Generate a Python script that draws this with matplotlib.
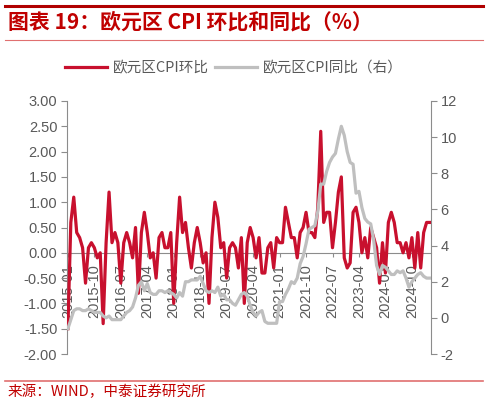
import numpy as np
import matplotlib
matplotlib.use('Agg')
import matplotlib.pyplot as plt
from matplotlib.lines import Line2D

plt.rcParams['axes.unicode_minus'] = False
plt.rcParams['font.family'] = ['Liberation Sans', 'Noto Sans CJK SC', 'DejaVu Sans']

# 欧元区 HICP 环比 (%)，2015-01 ~ 2025-04
mom = [
    -1.5, 0.6, 1.1, 0.4, 0.3, 0.1, -0.6, 0.1, 0.2, 0.1, -0.1, 0.0,   # 2015
    -1.4, 0.2, 1.2, 0.2, 0.4, 0.2, -0.6, 0.2, 0.4, 0.2, -0.1, 0.5,   # 2016
    -0.8, 0.4, 0.8, 0.4, -0.1, 0.0, -0.5, 0.3, 0.4, 0.1, 0.1, 0.4,   # 2017
    -1.0, 0.2, 1.1, 0.4, 0.6, 0.1, -0.3, 0.2, 0.5, 0.2, -0.2, 0.0,   # 2018
    -1.0, 0.3, 1.0, 0.7, 0.1, 0.2, -0.5, 0.1, 0.2, 0.1, -0.3, 0.3,   # 2019
    -1.0, 0.2, 0.5, 0.3, -0.1, 0.3, -0.4, -0.4, 0.1, 0.2, -0.3, 0.3,  # 2020
    0.2, 0.2, 0.9, 0.6, 0.3, 0.3, -0.1, 0.4, 0.5, 0.8, 0.4, 0.4,     # 2021
    0.3, 0.9, 2.4, 0.6, 0.8, 0.8, 0.1, 0.6, 1.2, 1.5, -0.1, -0.3,    # 2022
    -0.2, 0.8, 0.9, 0.6, 0.0, 0.3, -0.1, 0.5, 0.3, 0.1, -0.6, 0.2,   # 2023
    -0.4, 0.6, 0.8, 0.6, 0.2, 0.2, 0.0, 0.2, -0.1, 0.3, -0.3, 0.4,   # 2024
    -0.3, 0.4, 0.6, 0.6,                                             # 2025
]

# 欧元区 HICP 同比 (%)，右轴
yoy = [
    -0.6, -0.1, 0.4, 0.5, 0.5, 0.4, 0.4, 0.5, 0.4, 0.3, 0.3, 0.3,    # 2015
    0.1, 0.0, 0.1, -0.1, -0.1, -0.1, -0.1, 0.1, 0.3, 0.4, 0.6, 1.1,  # 2016
    1.8, 2.0, 1.5, 1.9, 1.4, 1.3, 1.3, 1.5, 1.5, 1.4, 1.5, 1.4,      # 2017
    1.3, 1.1, 1.4, 1.2, 2.0, 2.0, 2.1, 2.1, 2.1, 2.3, 1.9, 1.5,      # 2018
    1.4, 1.5, 1.4, 1.7, 1.2, 1.3, 1.0, 1.0, 0.8, 0.7, 1.0, 1.3,      # 2019
    1.4, 1.2, 0.7, 0.3, 0.1, 0.3, 0.4, -0.2, -0.3, -0.3, -0.3, -0.3, # 2020
    0.9, 0.9, 1.3, 1.6, 2.0, 1.9, 2.2, 3.0, 3.4, 4.1, 4.9, 5.0,      # 2021
    5.1, 5.9, 7.4, 7.4, 8.1, 8.6, 8.9, 9.1, 9.9, 10.6, 10.1, 9.2,    # 2022
    8.6, 8.5, 6.9, 7.0, 6.1, 5.5, 5.3, 5.2, 4.3, 2.9, 2.4, 2.9,      # 2023
    2.8, 2.6, 2.4, 2.4, 2.6, 2.5, 2.6, 2.2, 1.7, 2.0, 2.2, 2.4,      # 2024
    2.5, 2.3, 2.2, 2.2,                                              # 2025
]

months = [f'{2015 + i // 12}-{i % 12 + 1:02d}' for i in range(len(mom))]
tick_idx = list(range(0, len(months), 9))
tick_labels = [months[i] for i in tick_idx]

RED = '#C8102E'
GRAY = '#BFBFBF'
AXC = '#8C8C8C'
TXT = '#595959'
TITLE_RED = '#C00000'

fig = plt.figure(figsize=(4.88, 4.04), dpi=100)

# 标题区域
fig.add_artist(Line2D([5/488, 483/488], [1 - 6/404, 1 - 6/404], color='#B00000', linewidth=2.2))
fig.text(8/488, 1 - 22/404, '图表 19：欧元区 CPI 环比和同比（%）', fontsize=15, fontweight='bold',
         color=TITLE_RED, va='center', ha='left', family=['Noto Sans CJK SC', 'DejaVu Sans'])
fig.add_artist(Line2D([5/488, 483/488], [1 - 39.5/404, 1 - 39.5/404], color='#E07070', linewidth=0.8))

# 底部来源
fig.add_artist(Line2D([5/488, 483/488], [1 - 381/404, 1 - 381/404], color='#E07070', linewidth=1.2))
fig.text(8/488, 1 - 392/404, '来源：WIND，中泰证券研究所', fontsize=10.5, color=TITLE_RED,
         va='center', ha='left', family=['Noto Sans CJK SC', 'DejaVu Sans'])

ax = fig.add_axes([67/488, 1 - 354/404, (431 - 67)/488, (354 - 101)/404])
ax2 = ax.twinx()

x = np.arange(len(mom))
l1, = ax.plot(x, mom, color=RED, linewidth=2.3, zorder=3, solid_joinstyle='round')
l2, = ax2.plot(x, yoy, color=GRAY, linewidth=2.3, zorder=3, solid_joinstyle='round')

ax.set_xlim(-0.3, len(mom) - 0.5)
ax.set_ylim(-2, 3)
ax.set_yticks(np.arange(-2, 3.01, 0.5))
ax.set_yticklabels([f'{v:.2f}' for v in np.arange(-2, 3.01, 0.5)])
ax2.set_ylim(-2, 12)
ax2.set_yticks(range(-2, 13, 2))

ax.set_xticks(tick_idx)
ax.set_xticklabels(tick_labels)

for s in ['top', 'right']:
    ax.spines[s].set_visible(False)
ax.spines['bottom'].set_position(('data', 0))
ax.spines['bottom'].set_color(AXC)
ax.spines['left'].set_color(AXC)
for s in ['top', 'left', 'bottom']:
    ax2.spines[s].set_visible(False)
ax2.spines['right'].set_color(AXC)

ax.tick_params(axis='y', colors=AXC, labelcolor=TXT, labelsize=10.5, length=4, width=0.8, pad=3)
ax.tick_params(axis='x', colors=AXC, labelcolor=TXT, labelsize=10.5, length=3, width=0.8, pad=5,
               labelrotation=90)
ax2.tick_params(axis='y', colors=AXC, labelcolor=TXT, labelsize=10.5, length=4, width=0.8, pad=3)
ax.patch.set_visible(False)

leg = fig.legend([l1, l2], ['欧元区CPI环比', '欧元区CPI同比（右）'], loc='center',
                 bbox_to_anchor=(234/488, 1 - 68/404), ncol=2, frameon=False,
                 handlelength=2.9, handletextpad=0.4, columnspacing=0.4,
                 prop={'family': ['Noto Sans CJK SC', 'DejaVu Sans'], 'size': 10.5})
for t in leg.get_texts():
    t.set_color(TXT)

fig.savefig('out.png', dpi=100)
